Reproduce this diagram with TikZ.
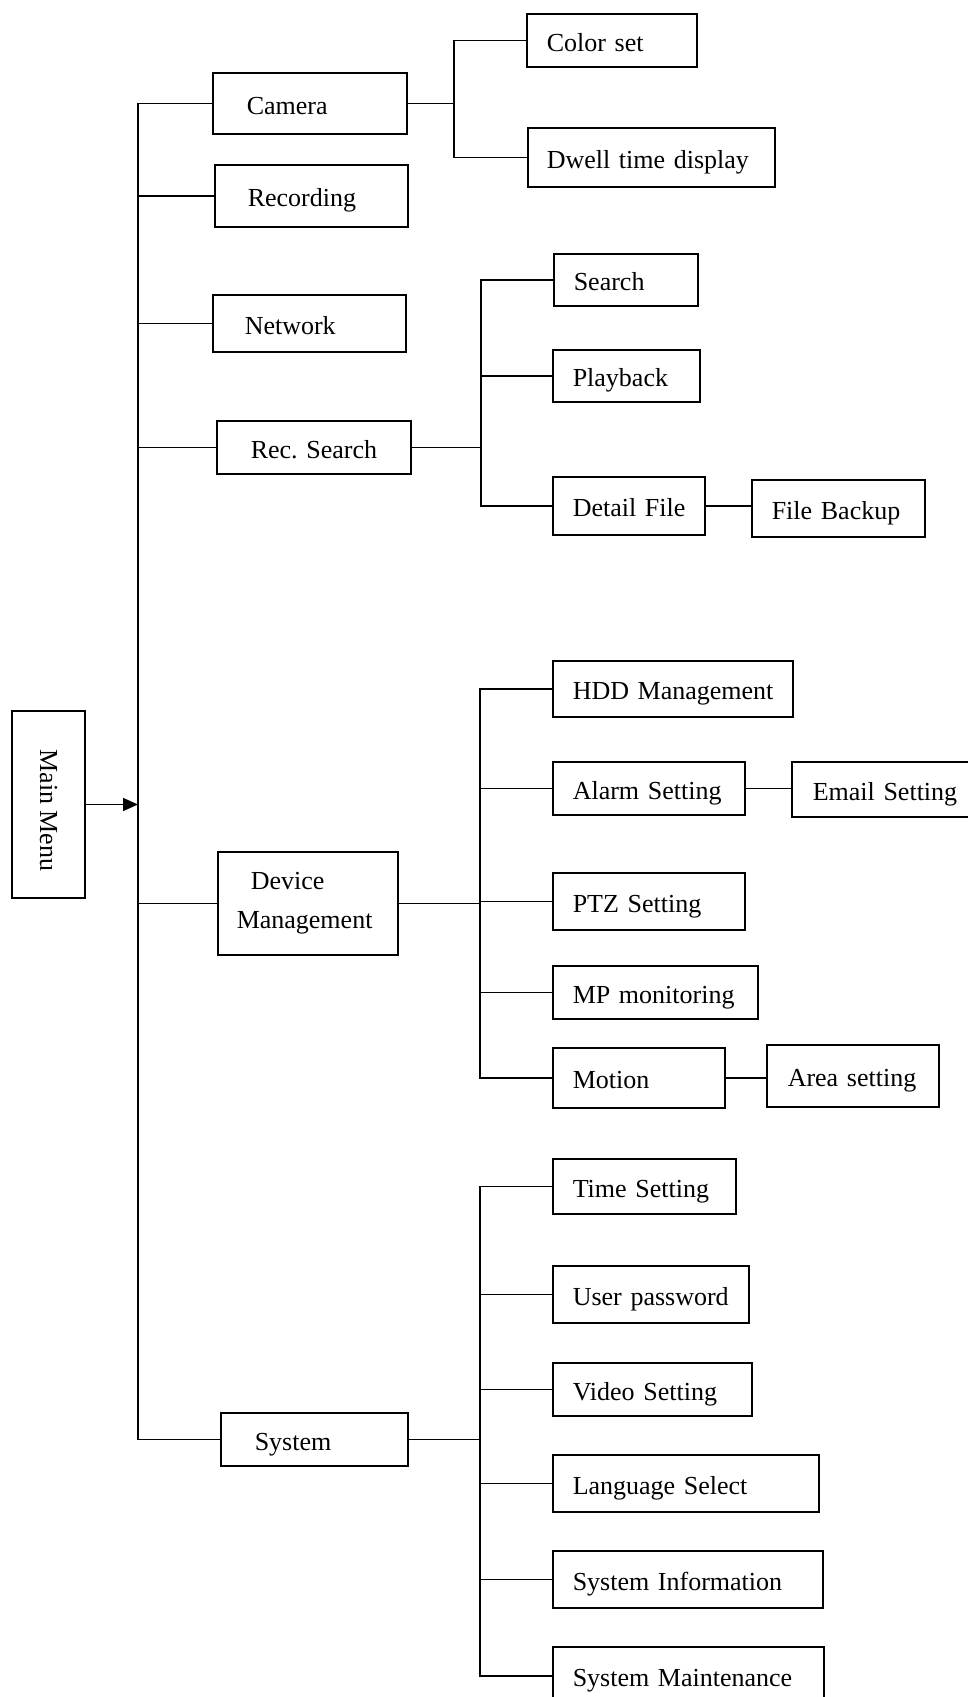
\documentclass[tikz,border=0pt]{standalone}
\usepackage{fontspec}
\usepackage{graphicx}
\setmainfont{Liberation Serif}
\usetikzlibrary{arrows.meta}
\tikzset{
  box/.style={draw, line width=1.5pt, anchor=north west, inner ysep=0pt, align=left,
    text height=23pt, text depth=1pt, font=\fontsize{26}{31}\selectfont\frenchspacing},
  ln/.style={line width=1.5pt}
}
\newcommand\mybox[7]{%
  \pgfmathsetmacro\mytw{#4-#2}%
  \node[box, inner xsep=0pt, text width=\mytw pt, minimum width={(#4-#2)*1pt},
        minimum height={(#5-#3)*1pt}] (#1) at (#2,#3) {\hspace*{#6pt}\mbox{#7}};}
\begin{document}
\begin{tikzpicture}[x=1pt, y=-1pt, line width=1.5pt]
\useasboundingbox (0,0) rectangle (968,1697);
% main menu
\node[draw, line width=1.5pt, minimum width=73pt, minimum height=187pt, inner sep=0pt,
      font=\fontsize{26}{31}\selectfont] (mainmenu) at (48.5,804.5)
      {\rotatebox{-90}{\hspace*{12pt}Main Menu}};
% level 1
\mybox{camera}{212}{72}{406}{133}{34}{Camera}
\mybox{recording}{214}{164}{407}{226}{33}{Recording}
\mybox{network}{212}{294}{405}{351}{32}{Network}
\mybox{recsearch}{216}{420}{410}{473}{34}{Rec. Search}
\node[box, inner xsep=19pt, text width=142pt, minimum width=180pt, minimum height=103pt,
      text height={}, text depth={}, font=\fontsize{26}{39.5}\selectfont]
      (devmgmt) at (217,851) {\hspace*{14pt}Device\\Management};
\mybox{system}{220}{1412}{407}{1465}{34}{System}
% camera children
\mybox{colorset}{526}{13}{696}{66}{20}{Color set}
\mybox{dwell}{527}{127}{774}{186}{19}{Dwell time display}
% rec search children
\mybox{search}{553}{253}{697}{305}{20}{Search}
\mybox{playback}{552}{349}{699}{401}{20}{Playback}
\mybox{detail}{552}{476}{704}{534}{20}{Detail File}
\mybox{backup}{751}{479}{924}{536}{20}{File Backup}
% device management children
\mybox{hdd}{552}{660}{792}{716}{20}{HDD Management}
\mybox{alarm}{552}{761}{744}{814}{20}{Alarm Setting}
\mybox{email}{791}{761}{985}{816}{21}{Email Setting}
\mybox{ptz}{552}{872}{744}{929}{20}{PTZ Setting}
\mybox{mp}{552}{965}{757}{1018}{20}{MP monitoring}
\mybox{motion}{552}{1047}{724}{1107}{20}{Motion}
\mybox{area}{766}{1044}{938}{1106}{21}{Area setting}
% system children
\mybox{time}{552}{1158}{735}{1213}{20}{Time Setting}
\mybox{user}{552}{1265}{748}{1322}{20}{User password}
\mybox{video}{552}{1362}{751}{1415}{20}{Video Setting}
\mybox{lang}{552}{1454}{818}{1511}{20}{Language Select}
\mybox{info}{552}{1550}{822}{1607}{20}{System Information}
\mybox{maint}{552}{1646}{823}{1704}{20}{System Maintenance}
% trunk coordinates
\coordinate (mx) at (138,0);
\coordinate (cb) at (454,0);
\coordinate (rb) at (481,0);
\coordinate (db) at (480,0);
\coordinate (sb) at (480,0);
% main trunk
\draw[ln] (camera.west) -| (mx |- system.west) -- (system.west);
\foreach \n in {recording, network, recsearch, devmgmt}
  \draw[ln] (\n.west) -- (\n.west -| mx);
\draw[ln, -{Triangle[length=15pt,width=13pt]}] (mainmenu.east) -- (mainmenu.east -| mx);
% camera bracket
\draw[ln] (colorset.west) -| (cb |- dwell.west) -- (dwell.west);
\draw[ln] (camera.east) -- (camera.east -| cb);
% rec search bracket
\draw[ln] (search.west) -| (rb |- detail.west) -- (detail.west);
\draw[ln] (playback.west) -- (playback.west -| rb);
\draw[ln] (recsearch.east) -- (recsearch.east -| rb);
\draw[ln] (detail.east) -- (backup.west |- detail.east);
% device management bracket
\draw[ln] (hdd.west) -| (db |- motion.west) -- (motion.west);
\foreach \n in {alarm, ptz, mp}
  \draw[ln] (\n.west) -- (\n.west -| db);
\draw[ln] (devmgmt.east) -- (devmgmt.east -| db);
\draw[ln] (alarm.east) -- (email.west |- alarm.east);
\draw[ln] (motion.east) -- (area.west |- motion.east);
% system bracket
\draw[ln] (time.west) -| (sb |- maint.west) -- (maint.west);
\foreach \n in {user, video, lang, info}
  \draw[ln] (\n.west) -- (\n.west -| sb);
\draw[ln] (system.east) -- (system.east -| sb);
\end{tikzpicture}
\end{document}
